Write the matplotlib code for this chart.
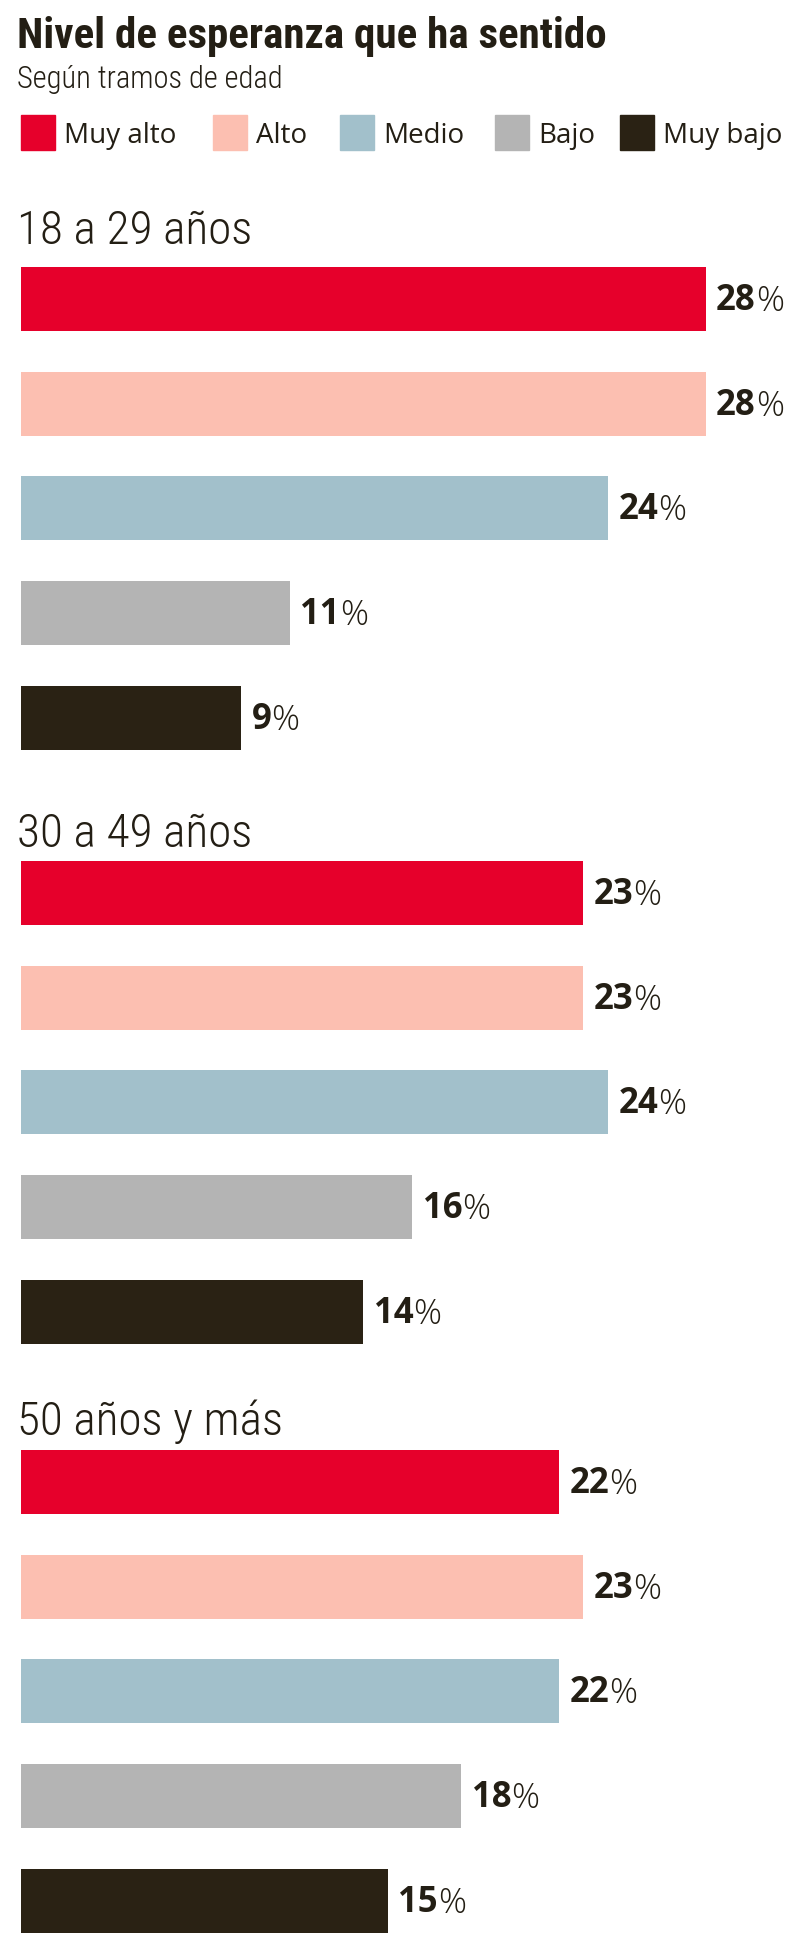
import matplotlib.pyplot as plt
from matplotlib.patches import Rectangle

# datos
grupos = ['18 a 29 años', '30 a 49 años', '50 años y más']
niveles = ['Muy alto', 'Alto', 'Medio', 'Bajo', 'Muy bajo']
colores = ['#E6002B', '#FCBFB1', '#A2C0CB', '#B4B4B4', '#2A2214']

valores_18_29 = [28, 28, 24, 11, 9]
valores_30_49 = [23, 23, 24, 16, 14]
valores_50_mas = [22, 23, 22, 18, 15]
valores = [valores_18_29, valores_30_49, valores_50_mas]

texto = '#231E14'
narrow = ['Roboto Condensed', 'Roboto', 'DejaVu Sans']
sans = ['Open Sans', 'DejaVu Sans']

W, H = 800, 1955
fig = plt.figure(figsize=(W / 100, H / 100), dpi=100)


def fx(px):
    return px / W


def fy(py):
    return 1 - py / H


# titulo y subtitulo
fig.text(fx(17), fy(48), 'Nivel de esperanza que ha sentido', family=narrow,
         fontweight='bold', size=31, color=texto, va='baseline')
fig.text(fx(17), fy(88), 'Según tramos de edad', family=narrow,
         fontweight='light', size=22, color=texto, va='baseline')

# leyenda
ley_x = [21, 213, 340, 495, 620]
for x, nivel, c in zip(ley_x, niveles, colores):
    fig.patches.append(Rectangle((fx(x), fy(150)), fx(34), 35 / H, color=c,
                                 transform=fig.transFigure, figure=fig))
    fig.text(fx(x + 43), fy(143), nivel, family=sans, size=20, color=texto,
             va='baseline')

# grupos de barras
pitch = 104.65
alto_barra = 64
tops = [267, 861, 1450]
titulo_base = [244, 847, 1435]
escala = 24.45  # px por punto porcentual

for nombre, vals, top, base in zip(grupos, valores, tops, titulo_base):
    fig.text(fx(17), fy(base), nombre, family=narrow, fontweight='light',
             size=34, color=texto, va='baseline')
    ax_top = top - (pitch - alto_barra) / 2
    ax_h = 5 * pitch
    ax = fig.add_axes([fx(21), fy(ax_top + ax_h), fx(W - 21), ax_h / H])
    ax.barh(range(len(vals)), vals, height=alto_barra / pitch, color=colores)
    ax.set_xlim(0, (W - 21) / escala)
    ax.set_ylim(4.5, -0.5)
    ax.axis('off')
    for i, v in enumerate(vals):
        t = ax.annotate(str(v), xy=(v, i), xytext=(7.5, -1.5),
                        textcoords='offset points', ha='left', va='center',
                        family=sans, fontweight='bold', size=25, color=texto)
        ax.annotate('%', xy=(1, 0), xycoords=t, ha='left', va='bottom',
                    family=sans, fontweight='light', size=25, color=texto)

fig.savefig('out.png', dpi=100, facecolor='white')
